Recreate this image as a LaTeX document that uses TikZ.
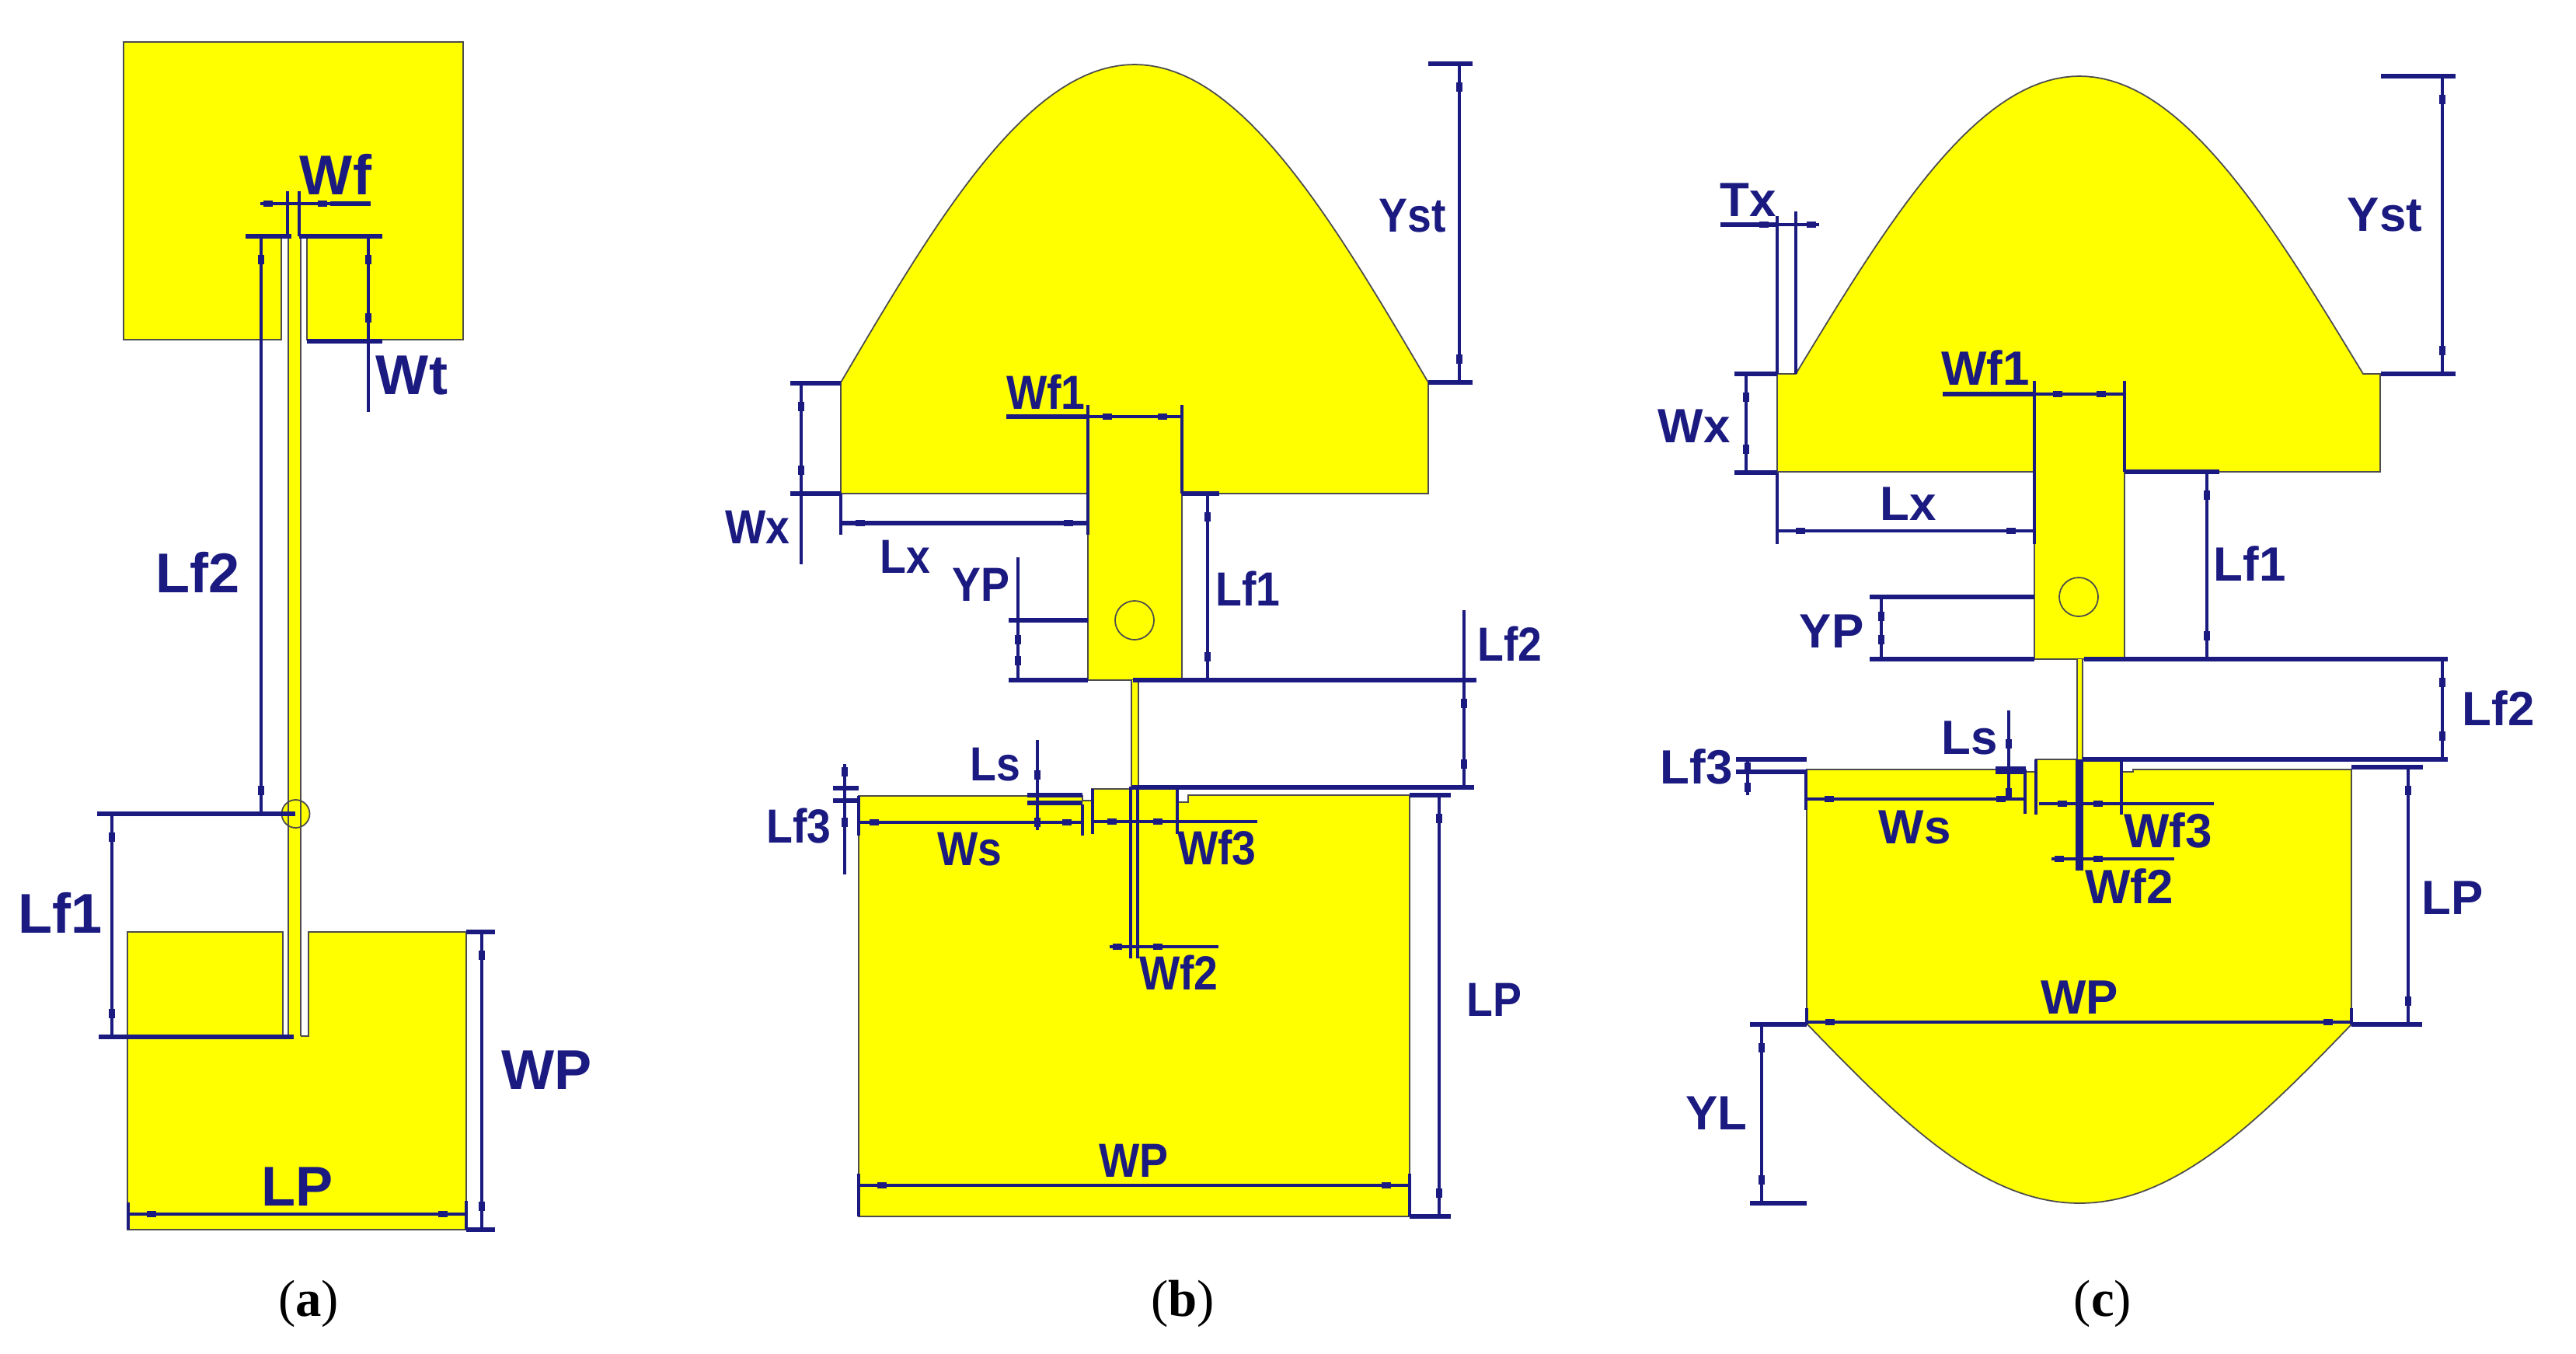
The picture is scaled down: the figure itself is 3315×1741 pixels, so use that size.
\documentclass[tikz,border=0pt]{standalone}
\usepackage{fontspec}
\setmainfont{Liberation Sans}
\newfontfamily\captionserif{Liberation Serif}
\usetikzlibrary{decorations.markings}
\definecolor{dimblue}{RGB}{26,26,128}
\definecolor{copper}{RGB}{255,255,0}
\tikzset{
  metal/.style={fill=copper, draw=black!70, line width=0.5pt},
  metalfill/.style={fill=copper},
  edge/.style={draw=black!70, line width=0.5pt},
  dimline/.style={draw=dimblue, line width=1.25pt},
  dimbar/.style={draw=dimblue, line width=1.75pt},
  dimtips/.style={postaction={decorate, decoration={markings,
    mark=at position #1 with {\fill[dimblue] (-6,-4) rectangle (6,4);},
    mark=at position -#1 with {\fill[dimblue] (-6,-4) rectangle (6,4);}}}},
  labela/.style={text=dimblue, inner sep=0pt, anchor=base, font=\fontsize{20.5}{24}\selectfont\bfseries},
  labelb/.style={text=dimblue, inner sep=0pt, anchor=base, xscale=0.9, font=\fontsize{17.5}{21}\selectfont\bfseries},
  labelc/.style={text=dimblue, inner sep=0pt, anchor=base, font=\fontsize{17.6}{21}\selectfont\bfseries},
  caption/.style={inner sep=0pt, anchor=base, font=\captionserif\fontsize{19}{23}\selectfont}
}
\begin{document}
\begin{tikzpicture}[x=0.01cm, y=-0.01cm]
\useasboundingbox (0,0) rectangle (3315,1741);

% ---- panel (a): metal
\draw[metal] (159,54) -- (596,54) -- (596,437) -- (395,437) -- (395,304) -- (362,304) -- (362,437) -- (159,437) -- cycle;
\draw[metal] (164,1199) -- (364,1199) -- (364,1333) -- (397,1333) -- (397,1199) -- (600,1199) -- (600,1582) -- (164,1582) -- cycle;
\fill[metalfill] (380.5,1047) circle (18);
\fill[metalfill] (371,300) rectangle (387,1334);
\draw[edge] (371,304) -- (371,1333);
\draw[edge] (387,304) -- (387,1333);
\draw[edge] (380.5,1047) circle (18);

% ---- panel (a): dimensions
\draw[dimline, dimtips=0.1cm] (335,262) -- (425,262);
\draw[dimbar] (425,262) -- (477,262);
\draw[dimline] (370,246) -- (370,304);
\draw[dimline] (385,246) -- (385,304);
\draw[dimbar] (316,304) -- (375,304);
\draw[dimbar] (385,304) -- (492,304);
\draw[dimline, dimtips=0.3cm] (336,304) -- (336,1047);
\draw[dimline, dimtips=0.3cm] (474,304) -- (474,439);
\draw[dimline] (474,439) -- (474,530);
\draw[dimbar] (395,439) -- (492,439);
\draw[dimbar] (125,1047) -- (380,1047);
\draw[dimbar] (127,1334) -- (378,1334);
\draw[dimline, dimtips=0.3cm] (144,1047) -- (144,1334);
\draw[dimbar] (600,1199) -- (637,1199);
\draw[dimbar] (600,1582) -- (637,1582);
\draw[dimline, dimtips=0.3cm] (620,1199) -- (620,1582);
\draw[dimline, dimtips=0.3cm] (165,1562) -- (600,1562);
\draw[dimline] (165,1547) -- (165,1582);
\draw[dimline] (600,1545) -- (600,1582);

% ---- panel (a): labels
\node[labela] (wfa) at (432,250) {Wf};
\node[labela] (wta) at (530,507) {Wt};
\node[labela] (lftwoa) at (255,762) {Lf2};
\node[labela] (lfonea) at (77.5,1200) {Lf1};
\node[labela] (wpa) at (704,1401) {WP};
\node[labela] (lpa) at (383,1551) {LP};
\node[caption] (capa) at (397,1693) {(\textbf{a})};

% ---- panel (b): metal
\draw[metal] (1082,635) -- (1082,492) -- plot[domain=-90:90, samples=73] ({1460+4.2*\x},{492-409*cos(\x)}) -- (1838,492) -- (1838,635) -- cycle;
\draw[metal] (1105,1024) -- (1393,1024) -- (1393,1030) -- (1405,1030) -- (1405,1015) -- (1516,1015) -- (1516,1032) -- (1529,1032) -- (1529,1023) -- (1814,1023) -- (1814,1565) -- (1105,1565) -- cycle;
\fill[metalfill] (1400,630) rectangle (1521,875);
\draw[edge] (1400,635) -- (1400,875) -- (1521,875) -- (1521,635);
\fill[metalfill] (1456,875) rectangle (1465,1018);
\draw[edge] (1456,875) -- (1456,1015);
\draw[edge] (1465,875) -- (1465,1015);
\draw[edge, fill=copper] (1460,798) circle (25);

% ---- panel (b): dimensions
\draw[dimbar] (1838,82) -- (1895,82);
\draw[dimbar] (1838,492) -- (1895,492);
\draw[dimline, dimtips=0.3cm] (1878,82) -- (1878,492);
\draw[dimbar] (1017,493) -- (1082,493);
\draw[dimbar] (1017,635) -- (1082,635);
\draw[dimline, dimtips=0.3cm] (1031,493) -- (1031,635);
\draw[dimline] (1031,635) -- (1031,726);
\draw[dimline] (1400,521) -- (1400,688);
\draw[dimline] (1521,521) -- (1521,635);
\draw[dimbar] (1295,536) -- (1400,536);
\draw[dimline, dimtips=0.25cm] (1400,536) -- (1521,536);
\draw[dimline] (1082,635) -- (1082,688);
\draw[dimbar, dimtips=0.25cm] (1082,673) -- (1400,673);
\draw[dimline] (1310,717) -- (1310,798);
\draw[dimline, dimtips=0.25cm] (1310,798) -- (1310,875);
\draw[dimbar] (1298,798) -- (1400,798);
\draw[dimbar] (1298,875) -- (1400,875);
\draw[dimbar] (1521,635) -- (1569,635);
\draw[dimline, dimtips=0.3cm] (1554,635) -- (1554,875);
\draw[dimbar] (1458,875) -- (1900,875);
\draw[dimline] (1884,785) -- (1884,875);
\draw[dimline, dimtips=0.3cm] (1884,875) -- (1884,1013);
\draw[dimbar] (1457,1013) -- (1897,1013);
\draw[dimline] (1335,952) -- (1335,987);
\draw[dimline, dimtips=0.1cm] (1335,987) -- (1335,1068);
\draw[dimbar] (1322,1023) -- (1393,1023);
\draw[dimbar] (1322,1033) -- (1393,1033);
\draw[dimline, dimtips=0.1cm] (1087,983) -- (1087,1068);
\draw[dimline] (1087,1068) -- (1087,1125);
\draw[dimbar] (1072,1014) -- (1105,1014);
\draw[dimbar] (1072,1030) -- (1105,1030);
\draw[dimline, dimtips=0.2cm] (1105,1058) -- (1393,1058);
\draw[dimline] (1105,1024) -- (1105,1075);
\draw[dimline] (1393,1035) -- (1393,1075);
\draw[dimline] (1406,1015) -- (1406,1073);
\draw[dimline] (1515,1015) -- (1515,1073);
\draw[dimline, dimtips=0.25cm] (1406,1057) -- (1515,1057);
\draw[dimline] (1515,1057) -- (1618,1057);
\draw[dimline] (1455,1012) -- (1455,1233);
\draw[dimline] (1464,1012) -- (1464,1233);
\draw[dimline, dimtips=0.1cm] (1428,1218) -- (1500,1218);
\draw[dimline] (1500,1218) -- (1568,1218);
\draw[dimline, dimtips=0.3cm] (1105,1525) -- (1814,1525);
\draw[dimline] (1105,1510) -- (1105,1565);
\draw[dimline] (1814,1510) -- (1814,1565);
\draw[dimbar] (1814,1023) -- (1867,1023);
\draw[dimbar] (1814,1565) -- (1867,1565);
\draw[dimline, dimtips=0.3cm] (1852,1023) -- (1852,1565);

% ---- panel (b): labels
\node[labelb] (ystb) at (1818,298) {Yst};
\node[labelb] (wxb) at (975,699) {Wx};
\node[labelb] (wfoneb) at (1346,526) {Wf1};
\node[labelb] (lxb) at (1165,737) {Lx};
\node[labelb] (ypb) at (1262,773) {YP};
\node[labelb] (lfoneb) at (1606,779) {Lf1};
\node[labelb] (lftwob) at (1943,850) {Lf2};
\node[labelb] (lsb) at (1281,1004) {Ls};
\node[labelb] (lfthreeb) at (1028,1084) {Lf3};
\node[labelb] (wsb) at (1248,1113) {Ws};
\node[labelb] (wfthreeb) at (1566,1112) {Wf3};
\node[labelb] (wftwob) at (1517,1273) {Wf2};
\node[labelb] (wpb) at (1459,1514) {WP};
\node[labelb] (lpb) at (1923,1307) {LP};
\node[caption] (capb) at (1522,1693) {(\textbf{b})};

% ---- panel (c): metal
\draw[metal] (2287,607) -- (2287,481) -- (2311,481) -- plot[domain=-90:90, samples=73] ({2676+4.056*\x},{481-383*cos(\x)}) -- (3063,481) -- (3063,607) -- cycle;
\draw[metal] (2325,990) -- (2606,990) -- (2606,993) -- (2620,993) -- (2620,977) -- (2730,977) -- (2730,993) -- (2745,993) -- (2745,990) -- (3026,990) -- (3026,1318) -- plot[domain=90:-90, samples=73] ({2676+3.889*\x},{1318+230*cos(\x)}) -- (2325,1318) -- cycle;
\fill[metalfill] (2618,602) rectangle (2734,848);
\draw[edge] (2618,607) -- (2618,848) -- (2734,848) -- (2734,607);
\fill[metalfill] (2673,848) rectangle (2680,980);
\draw[edge] (2673,848) -- (2673,977);
\draw[edge] (2680,848) -- (2680,977);
\draw[edge, fill=copper] (2675,768) circle (25);

% ---- panel (c): dimensions
\draw[dimbar] (3064,98) -- (3160,98);
\draw[dimbar] (3064,481) -- (3160,481);
\draw[dimline, dimtips=0.3cm] (3143,98) -- (3143,481);
\draw[dimline] (2287,278) -- (2287,481);
\draw[dimline] (2311,272) -- (2311,481);
\draw[dimbar] (2214,289) -- (2287,289);
\draw[dimline, dimtips=0.1cm] (2260,289) -- (2341,289);
\draw[dimbar] (2232,481) -- (2287,481);
\draw[dimbar] (2232,608) -- (2287,608);
\draw[dimline, dimtips=0.3cm] (2247,481) -- (2247,608);
\draw[dimline] (2618,490) -- (2618,700);
\draw[dimline] (2734,490) -- (2734,607);
\draw[dimbar] (2500,507) -- (2618,507);
\draw[dimline, dimtips=0.3cm] (2618,507) -- (2734,507);
\draw[dimline] (2287,608) -- (2287,700);
\draw[dimline, dimtips=0.3cm] (2287,683) -- (2618,683);
\draw[dimbar] (2406,768) -- (2618,768);
\draw[dimbar] (2406,848) -- (2618,848);
\draw[dimline, dimtips=0.25cm] (2421,768) -- (2421,848);
\draw[dimbar] (2734,607) -- (2856,607);
\draw[dimline, dimtips=0.3cm] (2840,607) -- (2840,848);
\draw[dimbar] (2682,848) -- (3150,848);
\draw[dimline, dimtips=0.3cm] (3143,848) -- (3143,977);
\draw[dimbar] (2680,977) -- (3150,977);
\draw[dimbar] (2234,977) -- (2325,977);
\draw[dimbar] (2234,993) -- (2325,993);
\draw[dimline, dimtips=0.1cm] (2249,977) -- (2249,1023);
\draw[dimline] (2585,914) -- (2585,947);
\draw[dimline, dimtips=0.1cm] (2585,947) -- (2585,1030);
\draw[dimline, line width=2.8pt] (2568,991) -- (2607,991);
\draw[dimline, dimtips=0.3cm] (2324,1028) -- (2605,1028);
\draw[dimline] (2324,990) -- (2324,1042);
\draw[dimline] (2606,990) -- (2606,1047);
\draw[dimline] (2620,977) -- (2620,1048);
\draw[dimline] (2730,980) -- (2730,1048);
\draw[dimline, dimtips=0.3cm] (2624,1034) -- (2730,1034);
\draw[dimline] (2730,1034) -- (2849,1034);
\draw[dimline, line width=2.8pt] (2676,977) -- (2676,1120);
\draw[dimline, dimtips=0.1cm] (2640,1105) -- (2710,1105);
\draw[dimline] (2710,1105) -- (2798,1105);
\draw[dimline, dimtips=0.3cm] (2325,1315) -- (3026,1315);
\draw[dimline] (2325,1297) -- (2325,1318);
\draw[dimline] (3026,1297) -- (3026,1318);
\draw[dimbar] (3026,987) -- (3118,987);
\draw[dimbar] (3026,1318) -- (3117,1318);
\draw[dimline, dimtips=0.3cm] (3099,987) -- (3099,1318);
\draw[dimbar] (2252,1318) -- (2325,1318);
\draw[dimbar] (2252,1548) -- (2325,1548);
\draw[dimline, dimtips=0.3cm] (2267,1318) -- (2267,1548);

% ---- panel (c): labels
\node[labelc] (txc) at (2250,278) {Tx};
\node[labelc] (ystc) at (3069,297) {Yst};
\node[labelc] (wfonec) at (2555,495) {Wf1};
\node[labelc] (wxc) at (2180,569) {Wx};
\node[labelc] (lxc) at (2456,669) {Lx};
\node[labelc] (lfonec) at (2895,747) {Lf1};
\node[labelc] (ypc) at (2357,833) {YP};
\node[labelc] (lftwoc) at (3215,933) {Lf2};
\node[labelc] (lsc) at (2535,970) {Ls};
\node[labelc] (lfthreec) at (2183,1008) {Lf3};
\node[labelc] (wsc) at (2464,1085) {Ws};
\node[labelc] (wfthreec) at (2790,1090) {Wf3};
\node[labelc] (wftwoc) at (2740,1162) {Wf2};
\node[labelc] (lpc) at (3156,1176) {LP};
\node[labelc] (wpc) at (2676,1304) {WP};
\node[labelc] (ylc) at (2209,1453) {YL};
\node[caption] (capc) at (2706,1693) {(\textbf{c})};
\end{tikzpicture}
\end{document}
